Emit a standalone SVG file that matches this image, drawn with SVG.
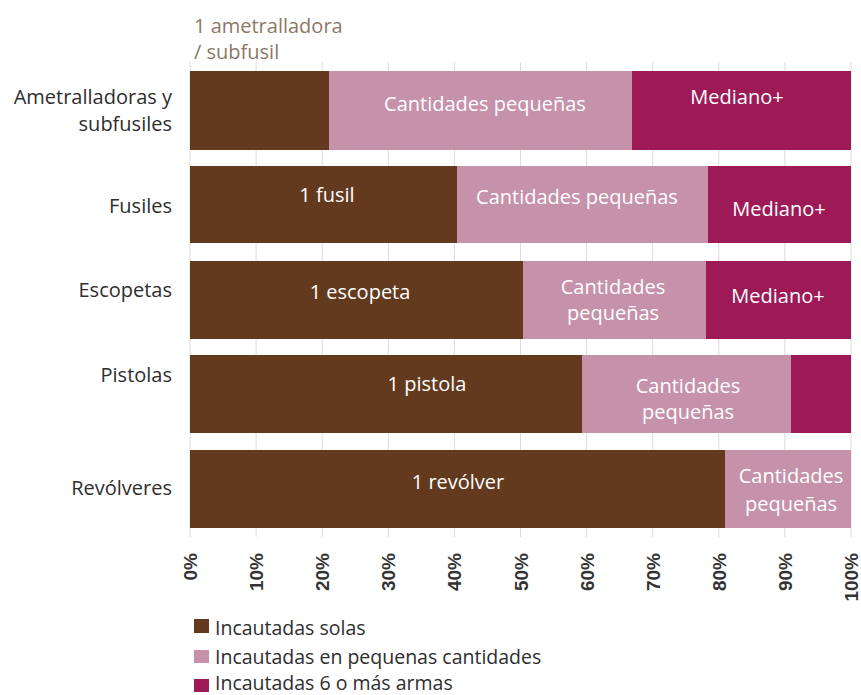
<svg xmlns="http://www.w3.org/2000/svg" width="861" height="695" viewBox="0 0 861 695">
<style>
text{font-family:"Open Sans","Liberation Sans",Arial,sans-serif}
.cat{font-size:20px;fill:#2e2e2e;text-anchor:end}
.lbl{font-size:20px;fill:#fff;text-anchor:middle}
.ax{font-family:"Liberation Sans",Arial,sans-serif;font-size:19px;font-weight:bold;fill:#333;text-anchor:end}
.leg{font-size:19.5px;fill:#2e2e2e}
.ann{font-size:20px;fill:#8c7866}
.s1{fill:#643a1e}
.s2{fill:#c592a9}
.s3{fill:#9d1a56}
.grid{stroke:#dcdcdc;stroke-width:1}
</style>
<rect width="861" height="695" fill="#fff"/>
<g id="grid">
<line class="grid" x1="190" y1="62" x2="190" y2="537"/>
<line class="grid" x1="256.1" y1="62" x2="256.1" y2="537"/>
<line class="grid" x1="322.2" y1="62" x2="322.2" y2="537"/>
<line class="grid" x1="388.3" y1="62" x2="388.3" y2="537"/>
<line class="grid" x1="454.4" y1="62" x2="454.4" y2="537"/>
<line class="grid" x1="520.5" y1="62" x2="520.5" y2="537"/>
<line class="grid" x1="586.6" y1="62" x2="586.6" y2="537"/>
<line class="grid" x1="652.7" y1="62" x2="652.7" y2="537"/>
<line class="grid" x1="718.8" y1="62" x2="718.8" y2="537"/>
<line class="grid" x1="784.9" y1="62" x2="784.9" y2="537"/>
<line class="grid" x1="851" y1="62" x2="851" y2="537"/>
</g>
<g id="annotation">
<text class="ann" x="194" y="33">1 ametralladora</text>
<text class="ann" x="194" y="59">/ subfusil</text>
</g>
<g id="bar-ametralladoras">
<rect class="s1" x="190" y="71" width="139" height="79"/>
<rect class="s2" x="329" y="71" width="303" height="79"/>
<rect class="s3" x="632" y="71" width="219" height="79"/>
<text class="cat" x="172" y="104">Ametralladoras y</text>
<text class="cat" x="172" y="131">subfusiles</text>
<text class="lbl" x="485" y="111">Cantidades pequeñas</text>
<text class="lbl" x="737" y="104">Mediano+</text>
</g>
<g id="bar-fusiles">
<rect class="s1" x="190" y="166" width="267" height="77"/>
<rect class="s2" x="457" y="166" width="251" height="77"/>
<rect class="s3" x="708" y="166" width="143" height="77"/>
<text class="cat" x="172" y="213">Fusiles</text>
<text class="lbl" x="327" y="202">1 fusil</text>
<text class="lbl" x="577" y="204">Cantidades pequeñas</text>
<text class="lbl" x="779" y="216">Mediano+</text>
</g>
<g id="bar-escopetas">
<rect class="s1" x="190" y="261" width="333" height="78"/>
<rect class="s2" x="523" y="261" width="183" height="78"/>
<rect class="s3" x="706" y="261" width="145" height="78"/>
<text class="cat" x="172" y="297">Escopetas</text>
<text class="lbl" x="360" y="299">1 escopeta</text>
<text class="lbl" x="613" y="294">Cantidades</text>
<text class="lbl" x="613" y="320">pequeñas</text>
<text class="lbl" x="778" y="303">Mediano+</text>
</g>
<g id="bar-pistolas">
<rect class="s1" x="190" y="355" width="392" height="78"/>
<rect class="s2" x="582" y="355" width="209" height="78"/>
<rect class="s3" x="791" y="355" width="60" height="78"/>
<text class="cat" x="172" y="382">Pistolas</text>
<text class="lbl" x="427" y="391">1 pistola</text>
<text class="lbl" x="688" y="393">Cantidades</text>
<text class="lbl" x="688" y="419">pequeñas</text>
</g>
<g id="bar-revolveres">
<rect class="s1" x="190" y="450" width="535" height="78"/>
<rect class="s2" x="725" y="450" width="126" height="78"/>
<text class="cat" x="172" y="495">Revólveres</text>
<text class="lbl" x="458" y="489">1 revólver</text>
<text class="lbl" x="791" y="483">Cantidades</text>
<text class="lbl" x="791" y="511">pequeñas</text>
</g>
<g id="axis">
<text class="ax" transform="translate(197,553) rotate(-90)">0%</text>
<text class="ax" transform="translate(263.1,553) rotate(-90)">10%</text>
<text class="ax" transform="translate(329.2,553) rotate(-90)">20%</text>
<text class="ax" transform="translate(395.3,553) rotate(-90)">30%</text>
<text class="ax" transform="translate(461.4,553) rotate(-90)">40%</text>
<text class="ax" transform="translate(527.5,553) rotate(-90)">50%</text>
<text class="ax" transform="translate(593.6,553) rotate(-90)">60%</text>
<text class="ax" transform="translate(659.7,553) rotate(-90)">70%</text>
<text class="ax" transform="translate(725.8,553) rotate(-90)">80%</text>
<text class="ax" transform="translate(791.9,553) rotate(-90)">90%</text>
<text class="ax" transform="translate(858,553) rotate(-90)">100%</text>
</g>
<g id="legend">
<rect class="s1" x="194" y="619" width="15" height="14"/>
<text class="leg" x="215" y="635">Incautadas solas</text>
<rect class="s2" x="194" y="650" width="15" height="13"/>
<text class="leg" x="215" y="664">Incautadas en pequenas cantidades</text>
<rect class="s3" x="194" y="679" width="15" height="13"/>
<text class="leg" x="215" y="690">Incautadas 6 o más armas</text>
</g>
</svg>
